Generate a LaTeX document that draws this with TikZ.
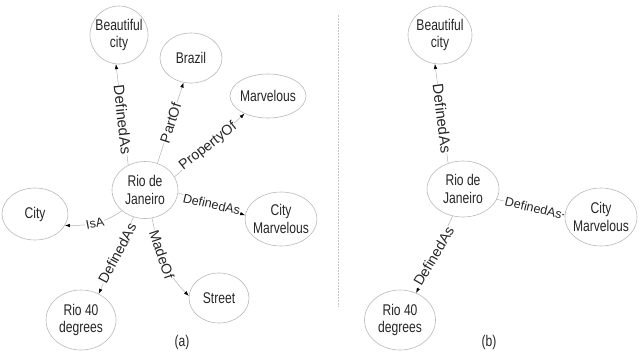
\documentclass[tikz,border=0pt]{standalone}
\usepackage{fontspec}
\setmainfont{Liberation Sans}
\newfontfamily\nfont[FakeStretch=0.78]{Liberation Sans}
\usetikzlibrary{shapes.geometric,arrows.meta}
\begin{document}
\begin{tikzpicture}[x=1pt,y=-1pt,
  ell/.style={ellipse, draw=gray!55, line width=0.6pt, inner sep=0pt},
  txt/.style={font=\nfont\fontsize{15.5}{17.5}\selectfont, text=black!85, align=center, inner sep=0pt},
  edge/.style={draw=gray!60, line width=0.5pt, -{Latex[length=5pt,width=3.5pt,color=black]}},
  lbl/.style={text=black!85, fill=white, inner sep=0.6pt, rotate=#1},
  fv/.style={font=\fontsize{15}{17}\selectfont},
  fd/.style={font=\fontsize{14.2}{17}\selectfont},
  fh/.style={font=\fontsize{12.6}{15}\selectfont},
]
\useasboundingbox (0,0) rectangle (642,354);

% ---------- (a) ----------
\node[ell, minimum width=58, minimum height=58, label={[txt]center:Beautiful\\city}] (abc) at (119,35) {};
\node[ell, minimum width=62, minimum height=50, label={[txt]center:Brazil}] (abr) at (191,58) {};
\node[ell, minimum width=76, minimum height=44, label={[txt]center:Marvelous}] (amv) at (268,96) {};
\node[ell, minimum width=66, minimum height=57, label={[txt]center:Rio de\\Janeiro}] (arj) at (145,190) {};
\node[ell, minimum width=66, minimum height=52, label={[txt]center:City}] (act) at (35,214) {};
\node[ell, minimum width=72, minimum height=54, label={[txt]center:City\\Marvelous}] (acm) at (281,219) {};
\node[ell, minimum width=70, minimum height=60, label={[txt]center:Rio 40\\degrees}] (ar4) at (81,320) {};
\node[ell, minimum width=60, minimum height=50, label={[txt]center:Street}] (ast) at (219,298) {};
\node[txt] (capa) at (182,342) {(a)};

\draw[edge] (arj.124) -- node[lbl=-83.7, fv, pos=0.45] {DefinedAs} (abc.264);
\draw[edge] (arj.65) -- node[lbl=72.2, fd, pos=0.5] {PartOf} (abr.253);
\draw[edge] (arj.24) -- node[lbl=38, fd, pos=0.48] {PropertyOf} (amv.217);
\draw[edge] (arj.-5) -- node[lbl=-12.8, fh, pos=0.5] {DefinedAs} (acm.174);
\draw[edge] (arj.222) to[out=215,in=0] node[lbl=11, fh, pos=0.5] {IsA} (act.-21);
\draw[edge] (arj.247) -- node[lbl=62.2, fd, pos=0.47] {DefinedAs} (ar4.56);
\draw[edge] (arj.284) to[out=-78,in=135] node[lbl=-71.2, fd, pos=0.42] {MadeOf} (ast.176);

% divider
\draw[gray!45, line width=0.6pt, dash pattern=on 1.5pt off 1.5pt] (338,15) -- (338,307);

% ---------- (b) ----------
\node[ell, minimum width=64, minimum height=58, label={[txt]center:Beautiful\\city}] (bbc) at (440,35) {};
\node[ell, minimum width=72, minimum height=56, label={[txt]center:Rio de\\Janeiro}] (brj) at (463,189) {};
\node[ell, minimum width=72, minimum height=58, label={[txt]center:City\\Marvelous}] (bcm) at (601,217) {};
\node[ell, minimum width=71, minimum height=60, label={[txt]center:Rio 40\\degrees}] (br4) at (400,320) {};
\node[txt] (capb) at (489,342) {(b)};

\draw[edge] (brj.120) -- node[lbl=-82.9, fv, pos=0.45] {DefinedAs} (bbc.260);
\draw[edge] (brj.-17) -- node[lbl=-13.3, fh, pos=0.54] {DefinedAs} (bcm.177);
\draw[edge] (brj.249) -- node[lbl=59.5, fd, pos=0.52] {DefinedAs} (br4.59);
\end{tikzpicture}
\end{document}
